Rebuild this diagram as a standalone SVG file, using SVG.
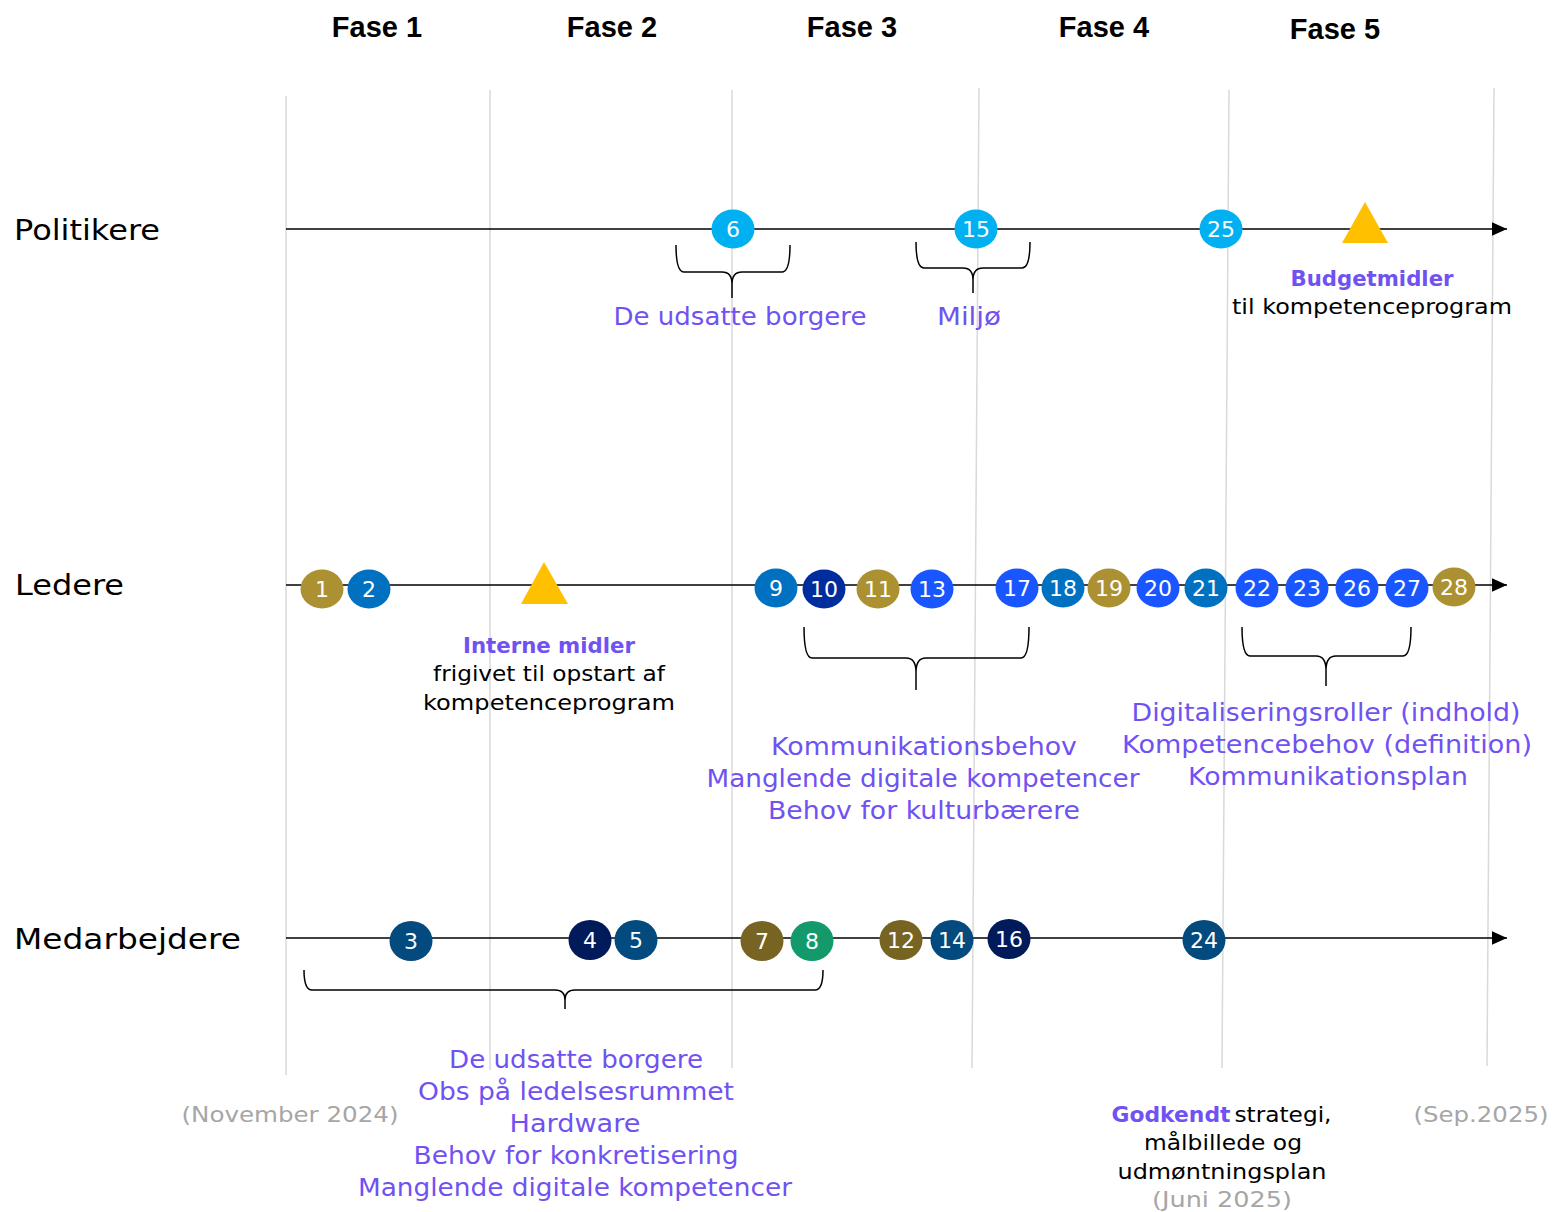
<svg xmlns="http://www.w3.org/2000/svg" width="1552" height="1212" viewBox="0 0 1552 1212">
<defs>
<style>
.vl{stroke:#D9D9D9;stroke-width:1.5;fill:none}
.tl{stroke:#000;stroke-width:1.5;fill:none}
.br{stroke:#000;stroke-width:1.5;fill:none}
.hd{font-family:"Liberation Sans",Arial,sans-serif;font-size:29px;font-weight:bold;fill:#000;text-anchor:middle}
.row{font-family:"DejaVu Sans",sans-serif;font-size:29px;fill:#000}
.pl{font-family:"DejaVu Sans",sans-serif;font-size:24px;fill:#7052F2;text-anchor:middle}
.pb{font-family:"DejaVu Sans",sans-serif;font-size:22px;font-weight:bold;fill:#7052F2;text-anchor:middle}
.bk{font-family:"DejaVu Sans",sans-serif;font-size:21px;fill:#000;text-anchor:middle}
.gr{font-family:"DejaVu Sans",sans-serif;font-size:22px;fill:#A6A6A6;text-anchor:middle}
.num{font-family:"DejaVu Sans",sans-serif;font-size:22px;fill:#fff;text-anchor:middle}
.tri{fill:#FFC000}
</style>
<marker id="arr" viewBox="0 0 10 10" refX="10" refY="5" markerWidth="15" markerHeight="15" markerUnits="userSpaceOnUse" orient="auto">
<path d="M0,0.5 L10,5 L0,9.5 z" fill="#000"/>
</marker>
</defs>
<rect width="1552" height="1212" fill="#fff"/>

<g id="grid">
<line class="vl" x1="286" y1="96" x2="286" y2="1075"/>
<line class="vl" x1="490" y1="90" x2="490" y2="1070"/>
<line class="vl" x1="732" y1="90" x2="732" y2="1068"/>
<line class="vl" x1="979" y1="88" x2="972" y2="1068"/>
<line class="vl" x1="1229" y1="90" x2="1222" y2="1068"/>
<line class="vl" x1="1494" y1="88" x2="1487" y2="1066"/>
</g>

<g id="headers">
<text class="hd" x="377" y="37">Fase 1</text>
<text class="hd" x="612" y="37">Fase 2</text>
<text class="hd" x="852" y="37">Fase 3</text>
<text class="hd" x="1104" y="37">Fase 4</text>
<text class="hd" x="1335" y="39">Fase 5</text>
</g>

<g id="rowlabels">
<text class="row" x="14" y="240" textLength="146" lengthAdjust="spacingAndGlyphs">Politikere</text>
<text class="row" x="15" y="595" textLength="109" lengthAdjust="spacingAndGlyphs">Ledere</text>
<text class="row" x="14" y="949" textLength="227" lengthAdjust="spacingAndGlyphs">Medarbejdere</text>
</g>

<g id="connectors">
<line class="tl" x1="286" y1="229" x2="1507" y2="229" marker-end="url(#arr)"/>
<line class="tl" x1="286" y1="585" x2="1507" y2="585" marker-end="url(#arr)"/>
<line class="tl" x1="286" y1="938" x2="1507" y2="938" marker-end="url(#arr)"/>
<path class="br" d="M676,245 Q676,272 684,272 L722,272 Q732,272 732,284 L732,298 M732,284 Q732,272 742,272 L782,272 Q790,272 790,245"/>
<path class="br" d="M916,242 Q916,268 924,268 L963,268 Q973,268 973,280 L973,293 M973,280 Q973,268 983,268 L1022,268 Q1030,268 1030,242"/>
<path class="br" d="M804,627 Q804,658 812,658 L906,658 Q916,658 916,672 L916,690 M916,672 Q916,658 926,658 L1021,658 Q1029,658 1029,627"/>
<path class="br" d="M1242,627 Q1242,656 1250,656 L1316,656 Q1326,656 1326,670 L1326,686 M1326,670 Q1326,656 1336,656 L1403,656 Q1411,656 1411,627"/>
<path class="br" d="M304,970 Q304,990 312,990 L555,990 Q565,990 565,1000 L565,1009 M565,1000 Q565,990 575,990 L815,990 Q823,990 823,970"/>
</g>

<g id="milestones">
<polygon class="tri" points="1365,202 1388,243 1342,243"/>
<polygon class="tri" points="544,562 568,604 521,604"/>
</g>

<g id="politikere-nodes">
<g id="n6"><ellipse cx="733" cy="229" rx="21.5" ry="19.5" fill="#00B0F0"/><text class="num" x="733" y="237">6</text></g>
<g id="n15"><ellipse cx="976" cy="229" rx="21.5" ry="19.5" fill="#00B0F0"/><text class="num" x="976" y="237">15</text></g>
<g id="n25"><ellipse cx="1221" cy="229" rx="21.5" ry="19.5" fill="#00B0F0"/><text class="num" x="1221" y="237">25</text></g>
</g>

<g id="ledere-nodes">
<g id="n1"><ellipse cx="322" cy="589" rx="21.5" ry="19.5" fill="#AC9132"/><text class="num" x="322" y="597">1</text></g>
<g id="n2"><ellipse cx="369" cy="589" rx="21.5" ry="19.5" fill="#0070C0"/><text class="num" x="369" y="597">2</text></g>
<g id="n9"><ellipse cx="776" cy="588" rx="21.5" ry="19.5" fill="#0070C0"/><text class="num" x="776" y="596">9</text></g>
<g id="n10"><ellipse cx="824" cy="589" rx="21.5" ry="19.5" fill="#002D9E"/><text class="num" x="824" y="597">10</text></g>
<g id="n11"><ellipse cx="878" cy="589" rx="21.5" ry="19.5" fill="#AC9132"/><text class="num" x="878" y="597">11</text></g>
<g id="n13"><ellipse cx="932" cy="589" rx="21.5" ry="19.5" fill="#1A56FF"/><text class="num" x="932" y="597">13</text></g>
<g id="n17"><ellipse cx="1017" cy="588" rx="21.5" ry="19.5" fill="#1A56FF"/><text class="num" x="1017" y="596">17</text></g>
<g id="n18"><ellipse cx="1063" cy="588" rx="21.5" ry="19.5" fill="#0070C0"/><text class="num" x="1063" y="596">18</text></g>
<g id="n19"><ellipse cx="1109" cy="588" rx="21.5" ry="19.5" fill="#AC9132"/><text class="num" x="1109" y="596">19</text></g>
<g id="n20"><ellipse cx="1158" cy="588" rx="21.5" ry="19.5" fill="#1A56FF"/><text class="num" x="1158" y="596">20</text></g>
<g id="n21"><ellipse cx="1206" cy="588" rx="21.5" ry="19.5" fill="#0070C0"/><text class="num" x="1206" y="596">21</text></g>
<g id="n22"><ellipse cx="1257" cy="588" rx="21.5" ry="19.5" fill="#1A56FF"/><text class="num" x="1257" y="596">22</text></g>
<g id="n23"><ellipse cx="1307" cy="588" rx="21.5" ry="19.5" fill="#1A56FF"/><text class="num" x="1307" y="596">23</text></g>
<g id="n26"><ellipse cx="1357" cy="588" rx="21.5" ry="19.5" fill="#1A56FF"/><text class="num" x="1357" y="596">26</text></g>
<g id="n27"><ellipse cx="1407" cy="588" rx="21.5" ry="19.5" fill="#1A56FF"/><text class="num" x="1407" y="596">27</text></g>
<g id="n28"><ellipse cx="1454" cy="587" rx="21.5" ry="19.5" fill="#AC9132"/><text class="num" x="1454" y="595">28</text></g>
</g>

<g id="medarbejdere-nodes">
<g id="n3"><ellipse cx="411" cy="941" rx="21.5" ry="20" fill="#034A7E"/><text class="num" x="411" y="949">3</text></g>
<g id="n4"><ellipse cx="590" cy="940" rx="21.5" ry="20" fill="#001A5A"/><text class="num" x="590" y="948">4</text></g>
<g id="n5"><ellipse cx="636" cy="940" rx="21.5" ry="20" fill="#034A7E"/><text class="num" x="636" y="948">5</text></g>
<g id="n7"><ellipse cx="762" cy="941" rx="21.5" ry="20" fill="#776322"/><text class="num" x="762" y="949">7</text></g>
<g id="n8"><ellipse cx="812" cy="941" rx="21.5" ry="20" fill="#13996A"/><text class="num" x="812" y="949">8</text></g>
<g id="n12"><ellipse cx="901" cy="940" rx="21.5" ry="20" fill="#776322"/><text class="num" x="901" y="948">12</text></g>
<g id="n14"><ellipse cx="952" cy="940" rx="21.5" ry="20" fill="#034A7E"/><text class="num" x="952" y="948">14</text></g>
<g id="n16"><ellipse cx="1009" cy="939" rx="21.5" ry="20" fill="#001A5A"/><text class="num" x="1009" y="947">16</text></g>
<g id="n24"><ellipse cx="1204" cy="940" rx="21.5" ry="20" fill="#034A7E"/><text class="num" x="1204" y="948">24</text></g>
</g>

<g id="labels">
<text class="pl" x="740" y="325" textLength="253" lengthAdjust="spacingAndGlyphs">De udsatte borgere</text>
<text class="pl" x="969" y="325" textLength="64" lengthAdjust="spacingAndGlyphs">Miljø</text>
<text class="pb" x="1372" y="286" textLength="163" lengthAdjust="spacingAndGlyphs">Budgetmidler</text>
<text class="bk" x="1372" y="314" textLength="280" lengthAdjust="spacingAndGlyphs">til kompetenceprogram</text>

<text class="pb" x="549" y="653" textLength="172" lengthAdjust="spacingAndGlyphs">Interne midler</text>
<text class="bk" x="549" y="681" textLength="232" lengthAdjust="spacingAndGlyphs">frigivet til opstart af</text>
<text class="bk" x="549" y="710" textLength="252" lengthAdjust="spacingAndGlyphs">kompetenceprogram</text>

<text class="pl" x="924" y="755" textLength="306" lengthAdjust="spacingAndGlyphs">Kommunikationsbehov</text>
<text class="pl" x="923" y="787" textLength="433" lengthAdjust="spacingAndGlyphs">Manglende digitale kompetencer</text>
<text class="pl" x="924" y="819" textLength="312" lengthAdjust="spacingAndGlyphs">Behov for kulturbærere</text>

<text class="pl" x="1326" y="721" textLength="389" lengthAdjust="spacingAndGlyphs">Digitaliseringsroller (indhold)</text>
<text class="pl" x="1327" y="753" textLength="410" lengthAdjust="spacingAndGlyphs">Kompetencebehov (definition)</text>
<text class="pl" x="1328" y="785" textLength="280" lengthAdjust="spacingAndGlyphs">Kommunikationsplan</text>

<text class="pl" x="576" y="1068" textLength="254" lengthAdjust="spacingAndGlyphs">De udsatte borgere</text>
<text class="pl" x="576" y="1100" textLength="316" lengthAdjust="spacingAndGlyphs">Obs på ledelsesrummet</text>
<text class="pl" x="575" y="1132" textLength="131" lengthAdjust="spacingAndGlyphs">Hardware</text>
<text class="pl" x="576" y="1164" textLength="325" lengthAdjust="spacingAndGlyphs">Behov for konkretisering</text>
<text class="pl" x="575" y="1196" textLength="434" lengthAdjust="spacingAndGlyphs">Manglende digitale kompetencer</text>

<text class="gr" x="290" y="1122" textLength="217" lengthAdjust="spacingAndGlyphs">(November 2024)</text>
<text class="gr" x="1481" y="1122" textLength="135" lengthAdjust="spacingAndGlyphs">(Sep.2025)</text>

<text class="pb" x="1171" y="1122" textLength="119" lengthAdjust="spacingAndGlyphs">Godkendt</text>
<text class="bk" x="1283" y="1122" textLength="97" lengthAdjust="spacingAndGlyphs">strategi,</text>
<text class="bk" x="1223" y="1150" textLength="158" lengthAdjust="spacingAndGlyphs">målbillede og</text>
<text class="bk" x="1222" y="1179" textLength="209" lengthAdjust="spacingAndGlyphs">udmøntningsplan</text>
<text class="gr" x="1222" y="1207" textLength="140" lengthAdjust="spacingAndGlyphs">(Juni 2025)</text>
</g>
</svg>
